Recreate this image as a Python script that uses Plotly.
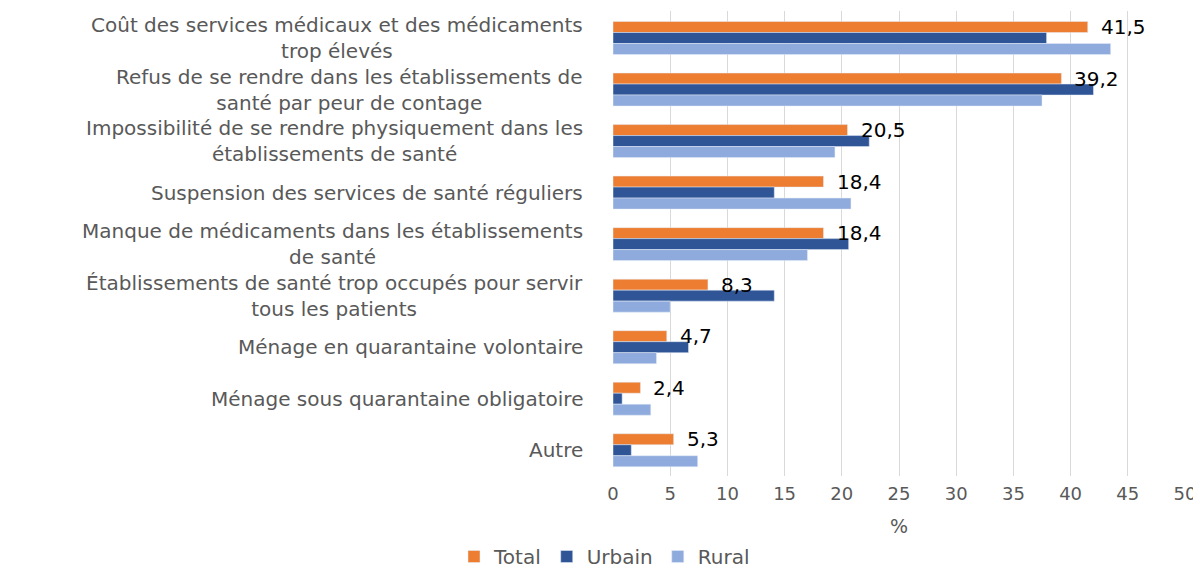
import plotly.graph_objects as go

categories = [
    "Coût des services médicaux et des médicaments<br>trop élevés",
    "Refus de se rendre dans les établissements de<br>santé par peur de contage",
    "Impossibilité de se rendre physiquement dans les<br>établissements de santé",
    "Suspension des services de santé réguliers",
    "Manque de médicaments dans les établissements<br>de santé",
    "Établissements de santé trop occupés pour servir<br>tous les patients",
    "Ménage en quarantaine volontaire",
    "Ménage sous quarantaine obligatoire",
    "Autre",
]
total = [41.5, 39.2, 20.5, 18.4, 18.4, 8.3, 4.7, 2.4, 5.3]
urbain = [37.9, 42.0, 22.4, 14.1, 20.6, 14.1, 6.6, 0.8, 1.6]
rural = [43.5, 37.5, 19.4, 20.8, 17.0, 5.0, 3.8, 3.3, 7.4]
x_ticks = [0, 5, 10, 15, 20, 25, 30, 35, 40, 45, 50]

keys = [f"c{i}" for i in range(len(categories))]
FONT = "DejaVu Sans"
GRAY = "#595959"

fig = go.Figure()
fig.add_trace(go.Bar(
    name="Total", y=keys, x=total, orientation="h",
    marker=dict(color="#ED7D31"),
))
fig.add_trace(go.Bar(
    name="Urbain", y=keys, x=urbain, orientation="h",
    marker=dict(color="#2F5597"),
))
fig.add_trace(go.Bar(
    name="Rural", y=keys, x=rural, orientation="h",
    marker=dict(color="#8FAADC"),
))

# category labels (centered multi-line, right of plot edge)
for k, lab in zip(keys, categories):
    fig.add_annotation(
        x=0, xref="paper", xshift=-28, xanchor="right",
        y=k, yref="y", yanchor="middle", align="center",
        text=lab, showarrow=False,
        font=dict(family=FONT, size=20, color=GRAY),
    )

# data labels for the Total series, aligned with the orange bar
for k, v in zip(keys, total):
    fig.add_annotation(
        x=v, xref="x", xshift=11, xanchor="left",
        y=k, yref="y", yshift=11, yanchor="middle",
        text=f"{v:.1f}".replace(".", ","), showarrow=False,
        font=dict(family=FONT, size=20, color="#000000"),
    )

fig.update_layout(
    width=1193, height=568,
    margin=dict(l=605, r=16, t=3, b=100, autoexpand=False),
    paper_bgcolor="white", plot_bgcolor="white",
    barmode="group", bargap=0.36, bargroupgap=0,
    font=dict(family=FONT, size=17, color=GRAY),
    legend=dict(orientation="h", x=0.5, xanchor="center", xref="container",
                y=0.0, yanchor="bottom", yref="container",
                font=dict(family=FONT, size=20, color=GRAY),
                traceorder="normal", itemwidth=30),
    showlegend=True,
)
fig.update_xaxes(range=[0, 50], tickvals=x_ticks, showgrid=True, gridcolor="#D9D9D9",
                 gridwidth=1, zeroline=False, showline=False, ticks="",
                 ticklabelstandoff=5, automargin=False,
                 tickfont=dict(family=FONT, size=18, color=GRAY),
                 title=dict(text="%", font=dict(family=FONT, size=19, color=GRAY), standoff=17))
fig.update_yaxes(type="category", categoryorder="array", categoryarray=keys,
                 autorange="reversed", showticklabels=False, showgrid=False, ticks="",
                 showline=False, zeroline=False, automargin=False)

fig.write_html("out.html")
